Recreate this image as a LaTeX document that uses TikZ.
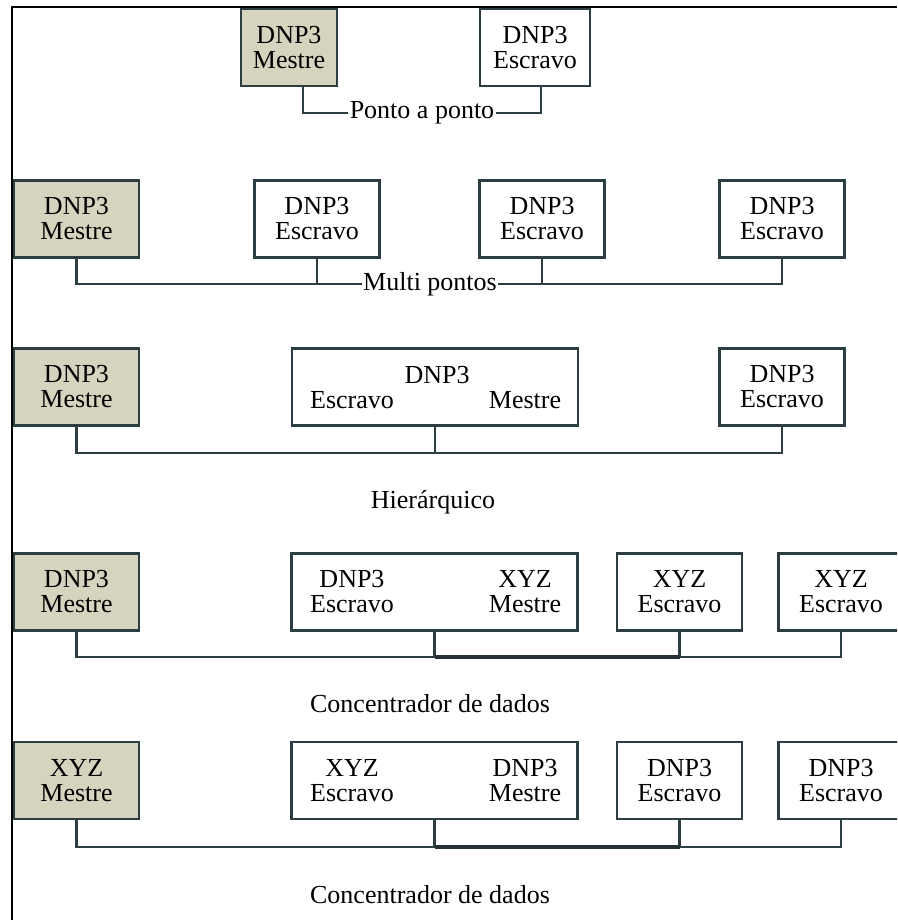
\documentclass[tikz,border=0pt]{standalone}
\usepackage{fontspec}
\setmainfont{Liberation Serif}
\usetikzlibrary{calc}
\definecolor{edge}{RGB}{45,62,66}
\definecolor{mfill}{RGB}{214,212,190}
\begin{document}
\begin{tikzpicture}[x=0.75pt,y=-0.75pt,
  txt/.style={align=center,inner sep=0pt,font=\fontsize{19.5pt}{18.75pt}\selectfont},
  box/.style={txt,draw=edge,line width=1.6pt,fill=white,minimum height=57.75pt,minimum width=93.75pt},
  mbox/.style={box,fill=mfill},
  wire/.style={draw=edge,line width=1.6pt},
  thickwire/.style={draw=edge!80!black,line width=2.4pt},
  lbl/.style={font=\fontsize{19.5pt}{19.5pt}\selectfont,inner sep=1pt,fill=white}]
\useasboundingbox (0,0) rectangle (897,920);
\clip (0,0) rectangle (897,920);
\fill[white] (0,0) rectangle (897,920);
% frame
\coordinate (fa) at (12,920);
\coordinate (fb) at (12,7);
\coordinate (fc) at (897,7);
\draw[line width=2.1pt] (fa) -- (fb) -- (fc);

% ---------- Row 1: Ponto a ponto
\node[mbox,minimum width=72pt] (m1) at (289,47.5) {DNP3\\Mestre};
\node[box,minimum width=82.5pt] (s1) at (535,47.5) {DNP3\\Escravo};
\coordinate (b1a) at (303,113);
\coordinate (b1b) at (541,113);
\draw[wire] (m1.south -| b1a) -- (b1a) -- (b1b) -- (s1.south -| b1b);
\node[lbl] (l1) at (422,113) {Ponto a ponto};

% ---------- Row 2: Multi pontos
\node[mbox] (m2) at (76.5,219) {DNP3\\Mestre};
\node[box] (s2a) at (317,219) {DNP3\\Escravo};
\node[box] (s2b) at (542,219) {DNP3\\Escravo};
\node[box] (s2c) at (782,219) {DNP3\\Escravo};
\coordinate (bus2) at (0,284);
\draw[wire] (m2.south) -- (m2.south |- bus2) -- (s2c.south |- bus2) -- (s2c.south);
\draw[wire] (s2a.south) -- (s2a.south |- bus2);
\draw[wire] (s2b.south) -- (s2b.south |- bus2);
\node[lbl] (l2) at (430,284) {Multi pontos};

% ---------- Row 3: Hierarquico
\node[mbox] (m3) at (76.5,387) {DNP3\\Mestre};
\node[box,minimum width=214.5pt] (h3) at (435,387) {};
\node[txt,anchor=base] (h3t) at (437,383) {DNP3};
\node[txt,anchor=base] (h3l) at (352,408) {Escravo};
\node[txt,anchor=base] (h3r) at (525,408) {Mestre};
\node[box] (s3) at (782,387) {DNP3\\Escravo};
\coordinate (bus3) at (0,453);
\draw[wire] (m3.south) -- (m3.south |- bus3) -- (s3.south |- bus3) -- (s3.south);
\draw[wire] (h3.south) -- (h3.south |- bus3);
\node[lbl,anchor=base,fill=none] (l3) at (433,508) {Hierárquico};

% ---------- Row 4: Concentrador de dados
\node[mbox] (m4) at (76.5,592) {DNP3\\Mestre};
\node[box,minimum width=214.5pt] (h4) at (434.5,592) {};
\node[txt] (h4l) at (352,592) {DNP3\\Escravo};
\node[txt] (h4r) at (525,592) {XYZ\\Mestre};
\node[box] (x4) at (679.5,592) {XYZ\\Escravo};
\node[box] (r4) at (841,592) {XYZ\\Escravo};
\coordinate (bus4) at (0,657);
\draw[wire] (m4.south) -- (m4.south |- bus4) -- (r4.south |- bus4) -- (r4.south);
\draw[wire] (h4.south) -- (h4.south |- bus4);
\draw[wire] (x4.south) -- (x4.south |- bus4);
\draw[thickwire] (h4.south |- bus4) -- (x4.south |- bus4);
\node[lbl,fill=none] (l4) at (430,704) {Concentrador de dados};

% ---------- Row 5: Concentrador de dados
\node[mbox] (m5) at (76.5,780.5) {XYZ\\Mestre};
\node[box,minimum width=214.5pt] (h5) at (434.5,780.5) {};
\node[txt] (h5l) at (352,780.5) {XYZ\\Escravo};
\node[txt] (h5r) at (525,780.5) {DNP3\\Mestre};
\node[box] (x5) at (679.5,780.5) {DNP3\\Escravo};
\node[box] (r5) at (841,780.5) {DNP3\\Escravo};
\coordinate (bus5) at (0,847);
\draw[wire] (m5.south) -- (m5.south |- bus5) -- (r5.south |- bus5) -- (r5.south);
\draw[wire] (h5.south) -- (h5.south |- bus5);
\draw[wire] (x5.south) -- (x5.south |- bus5);
\draw[thickwire] (h5.south |- bus5) -- (x5.south |- bus5);
\node[lbl,fill=none] (l5) at (430,895) {Concentrador de dados};
\end{tikzpicture}
\end{document}
